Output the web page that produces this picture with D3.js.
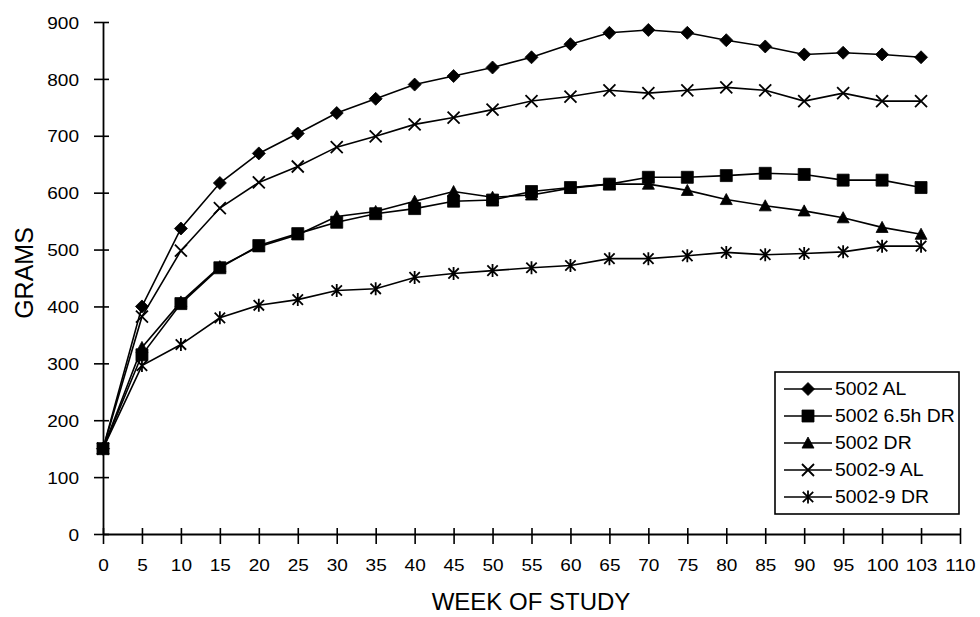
<!DOCTYPE html>
<html>
<head>
<meta charset="utf-8">
<script src="https://cdn.jsdelivr.net/npm/d3@7"></script>
<style>
  html, body { margin: 0; padding: 0; background: #fff; }
  svg { display: block; font-family: "Liberation Sans", Arial, Helvetica, sans-serif; }
</style>
</head>
<body>
<svg id="chart" width="980" height="617"></svg>
<script>
// ---------- data ----------
const weekLabels = ["0","5","10","15","20","25","30","35","40","45","50","55","60","65","70","75","80","85","90","95","100","103","110"];
const dataWeeks  = ["0","5","10","15","20","25","30","35","40","45","50","55","60","65","70","75","80","85","90","95","100","103"];
const yTicks = [0,100,200,300,400,500,600,700,800,900];

const seriesNames = ["5002 AL","5002 6.5h DR","5002 DR","5002-9 AL","5002-9 DR"];
const al5002   = [150,400,537,617,669,704,740,765,790,805,820,838,861,881,886,881,868,857,843,846,843,838];
const dr65_5002= [150,315,405,468,507,528,548,563,572,585,587,602,609,615,627,627,630,634,632,622,622,609];
const dr5002   = [150,328,408,470,505,526,558,567,585,602,592,596,608,615,615,604,588,577,568,556,539,527];
const al5002_9 = [150,382,498,573,618,646,680,699,720,732,746,761,769,780,775,780,785,780,761,775,761,761];
const dr5002_9 = [150,296,333,380,402,412,428,431,451,458,463,468,472,484,484,489,495,491,493,496,506,506];
const seriesValues = [al5002, dr65_5002, dr5002, al5002_9, dr5002_9];
const markerKinds = ["diamond","square","triangle","x","asterisk"];

// ---------- setup ----------
const svg = d3.select("#chart");
const X0 = 103, X1 = 960, Y0 = 534, Y1 = 22;
const x = d3.scalePoint().domain(weekLabels).range([X0, X1]);
const y = d3.scaleLinear().domain([0, 900]).range([Y0, Y1]);
const SX = 1.12; // horizontal text stretch of the scanned original

// custom marker shapes
const shapes = {
  diamond: { draw(c, s) { const r = Math.sqrt(s) / 2; c.moveTo(0,-r); c.lineTo(r,0); c.lineTo(0,r); c.lineTo(-r,0); c.closePath(); } },
  square: { draw(c, s) { const h = Math.sqrt(s) / 2; c.rect(-h,-h,2*h,2*h); } },
  triangle: { draw(c, s) { const h = Math.sqrt(s) / 2; c.moveTo(0,-h); c.lineTo(h,h*0.85); c.lineTo(-h,h*0.85); c.closePath(); } },
  x: { draw(c, s) { const h = Math.sqrt(s) / 2; c.moveTo(-h,-h); c.lineTo(h,h); c.moveTo(-h,h); c.lineTo(h,-h); } },
  asterisk: { draw(c, s) { const h = Math.sqrt(s) / 2; const k = h*0.8; c.moveTo(-k,-k); c.lineTo(k,k); c.moveTo(-k,k); c.lineTo(k,-k); c.moveTo(0,-h); c.lineTo(0,h); } }
};
const shapeSize = { diamond: 13*13, square: 12*12, triangle: 12*12, x: 12*12, asterisk: 13*13 };
const filled = { diamond: true, square: true, triangle: true, x: false, asterisk: false };

function drawMarker(g, kind, px, py) {
  g.append("path")
    .attr("d", d3.symbol().type(shapes[kind]).size(shapeSize[kind])())
    .attr("transform", `translate(${px},${py})`)
    .attr("fill", filled[kind] ? "#000" : "none")
    .attr("stroke", "#000")
    .attr("stroke-width", filled[kind] ? 0.8 : 1.8);
}

// ---------- axes ----------
const yAxis = svg.append("g")
  .attr("transform", `translate(${X0},0)`)
  .call(d3.axisLeft(y).tickValues(yTicks).tickSize(8).tickPadding(0).tickSizeOuter(0));
yAxis.select(".domain").attr("stroke", "#000").attr("stroke-width", 1.8);
yAxis.selectAll(".tick line").attr("x1", 6).attr("x2", -9).attr("stroke", "#000").attr("stroke-width", 1.6);
yAxis.selectAll(".tick text")
  .attr("x", null)
  .attr("transform", `translate(-24,0) scale(${SX},1)`)
  .attr("dy", "0.36em")
  .attr("font-size", 17).attr("fill", "#000")
  .attr("font-family", "Liberation Sans, Arial, sans-serif");

const xAxis = svg.append("g")
  .attr("transform", `translate(0,${Y0})`)
  .call(d3.axisBottom(x).tickSize(10).tickPadding(0).tickSizeOuter(0));
xAxis.select(".domain").attr("stroke", "#000").attr("stroke-width", 1.8);
xAxis.selectAll(".tick line").attr("y1", -6).attr("y2", 10).attr("stroke", "#000").attr("stroke-width", 1.6);
xAxis.selectAll(".tick text")
  .attr("y", null).attr("dy", null)
  .attr("transform", `translate(0,37) scale(${SX},1)`)
  .attr("font-size", 17).attr("fill", "#000")
  .attr("font-family", "Liberation Sans, Arial, sans-serif");

// axis titles
svg.append("text")
  .attr("transform", `translate(531,610)`)
  .attr("text-anchor", "middle")
  .attr("font-size", 24).attr("fill", "#000")
  .text("WEEK OF STUDY");
svg.append("text")
  .attr("transform", `translate(33,273) rotate(-90)`)
  .attr("text-anchor", "middle")
  .attr("font-size", 25).attr("fill", "#000")
  .text("GRAMS");

// ---------- series ----------
const line = d3.line().x((d, i) => x(dataWeeks[i])).y(d => y(d));
seriesValues.forEach((vals, si) => {
  const g = svg.append("g").attr("class", "series");
  g.append("path")
    .attr("d", line(vals))
    .attr("fill", "none").attr("stroke", "#000").attr("stroke-width", 1.6);
  vals.forEach((v, i) => drawMarker(g, markerKinds[si], x(dataWeeks[i]), y(v)));
});

// ---------- legend ----------
const lg = svg.append("g").attr("class", "legend");
lg.append("rect")
  .attr("x", 775).attr("y", 372).attr("width", 184).attr("height", 142)
  .attr("fill", "#fff").attr("stroke", "#000").attr("stroke-width", 1.6);
seriesNames.forEach((name, i) => {
  const ly = 389 + i * 27;
  lg.append("line").attr("x1", 784).attr("x2", 832).attr("y1", ly).attr("y2", ly)
    .attr("stroke", "#000").attr("stroke-width", 1.6);
  drawMarker(lg, markerKinds[i], 808, ly);
  lg.append("text")
    .attr("transform", `translate(835,${ly}) scale(1.08,1)`)
    .attr("dy", "0.36em")
    .attr("font-size", 18).attr("fill", "#000")
    .text(name);
});
</script>
</body>
</html>
